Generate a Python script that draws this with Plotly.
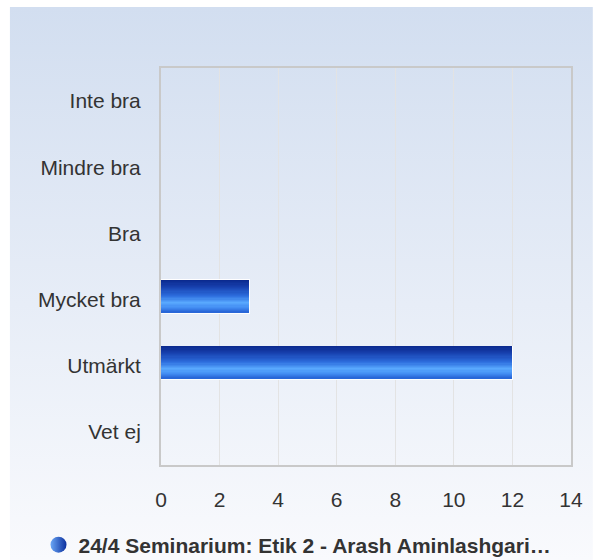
import base64
import plotly.graph_objects as go

# Survey answers, top to bottom as shown on the axis
categories = ["Inte bra", "Mindre bra", "Bra", "Mycket bra", "Utmärkt", "Vet ej"]
counts = [0, 0, 0, 3, 12, 0]
x_ticks = [0, 2, 4, 6, 8, 10, 12, 14]
series_name = "24/4 Seminarium: Etik 2 - Arash Aminlashgari…"

FONT = "Arial, 'Liberation Sans', sans-serif"
TEXT = "#333333"

# Glossy bar fill: colour stops across the bar thickness (0 = top edge)
stops = [
    (0.00, (10, 40, 140)),
    (0.20, (22, 62, 172)),
    (0.50, (45, 110, 222)),
    (0.70, (90, 170, 255)),
    (0.85, (66, 140, 242)),
    (1.00, (38, 98, 212)),
]


def shade(t):
    for (t0, c0), (t1, c1) in zip(stops, stops[1:]):
        if t <= t1:
            f = (t - t0) / (t1 - t0)
            return "rgb(%d,%d,%d)" % tuple(round(a + (b - a) * f) for a, b in zip(c0, c1))
    return "rgb(%d,%d,%d)" % stops[-1][1]


BAR_W = 0.49
BAR_OFF = -0.29
N_STRIPS = 28

fig = go.Figure()

# thin light rim under the bars (only where there is a bar)
fig.add_trace(go.Bar(
    x=counts, y=categories, orientation="h",
    width=BAR_W, offset=BAR_OFF,
    marker=dict(color="rgba(255,255,255,0.9)",
                line=dict(color="rgba(255,255,255,0.95)",
                          width=[2 if c > 0 else 0 for c in counts])),
    showlegend=False, hoverinfo="skip",
))

# the bars themselves, built from horizontal colour bands
step = BAR_W / N_STRIPS
for i in range(N_STRIPS):
    fig.add_trace(go.Bar(
        x=counts, y=categories, orientation="h",
        width=step, offset=BAR_OFF + i * step,
        marker=dict(color=shade((i + 0.5) / N_STRIPS), line=dict(width=0)),
        showlegend=False, hoverinfo="x+y" if i == 0 else "skip",
    ))

# legend entry with a round, shaded swatch
fig.add_trace(go.Scatter(
    x=[None], y=[None], mode="markers", name=series_name,
    marker=dict(symbol="circle", size=16, color="#6aa6f5",
                gradient=dict(type="horizontal", color="#0b2f9e")),
))

# soft blue-to-white page background
svg = (
    '<svg xmlns="http://www.w3.org/2000/svg" width="100" height="100" '
    'viewBox="0 0 100 100" preserveAspectRatio="none">'
    '<defs><linearGradient id="g" x1="0" y1="0" x2="0" y2="1">'
    '<stop offset="0" stop-color="#d2def0"/>'
    '<stop offset="1" stop-color="#f9fafd"/>'
    '</linearGradient></defs>'
    '<rect width="100" height="100" fill="url(#g)"/></svg>'
)
bg_src = "data:image/svg+xml;base64," + base64.b64encode(svg.encode()).decode()

W, H = 595, 560
L, R, T, B = 161, 22, 68, 95
pw, ph = W - L - R, H - T - B
bg_x0, bg_y0 = 9, 7
fig.add_layout_image(
    source=bg_src, xref="paper", yref="paper",
    x=(bg_x0 - L) / pw, y=(H - B - bg_y0) / ph,
    sizex=(W - bg_x0) / pw, sizey=(H - bg_y0) / ph,
    xanchor="left", yanchor="top", sizing="stretch", layer="below",
)

fig.update_layout(
    width=W, height=H,
    margin=dict(l=L, r=R, t=T, b=B, pad=0),
    paper_bgcolor="white",
    plot_bgcolor="rgba(0,0,0,0)",
    barmode="overlay",
    bargap=0,
    font=dict(family=FONT, size=21, color=TEXT),
    showlegend=True,
    legend=dict(
        orientation="h", xref="container", yref="container",
        x=0.50, xanchor="center", y=1 - 545 / H, yanchor="middle",
        font=dict(family=FONT, size=21, color=TEXT, weight="bold"),
        bgcolor="rgba(0,0,0,0)", itemclick=False,
    ),
    xaxis=dict(
        range=[0, 14], tickvals=x_ticks, ticktext=[str(v) for v in x_ticks],
        showgrid=True, gridcolor="#e3e3e3", gridwidth=1,
        zeroline=False,
        showline=True, linecolor="#c9c9c9", linewidth=2, mirror=True,
        ticks="outside", ticklen=15, tickcolor="rgba(0,0,0,0)",
        tickfont=dict(family=FONT, size=21, color=TEXT),
        fixedrange=True,
    ),
    yaxis=dict(
        categoryorder="array", categoryarray=categories,
        autorange="reversed",
        showgrid=False, zeroline=False,
        showline=True, linecolor="#c9c9c9", linewidth=2, mirror=True,
        ticks="outside", ticklen=14, tickcolor="rgba(0,0,0,0)",
        tickfont=dict(family=FONT, size=21, color=TEXT),
        fixedrange=True,
    ),
)

fig.write_html("out.html")
